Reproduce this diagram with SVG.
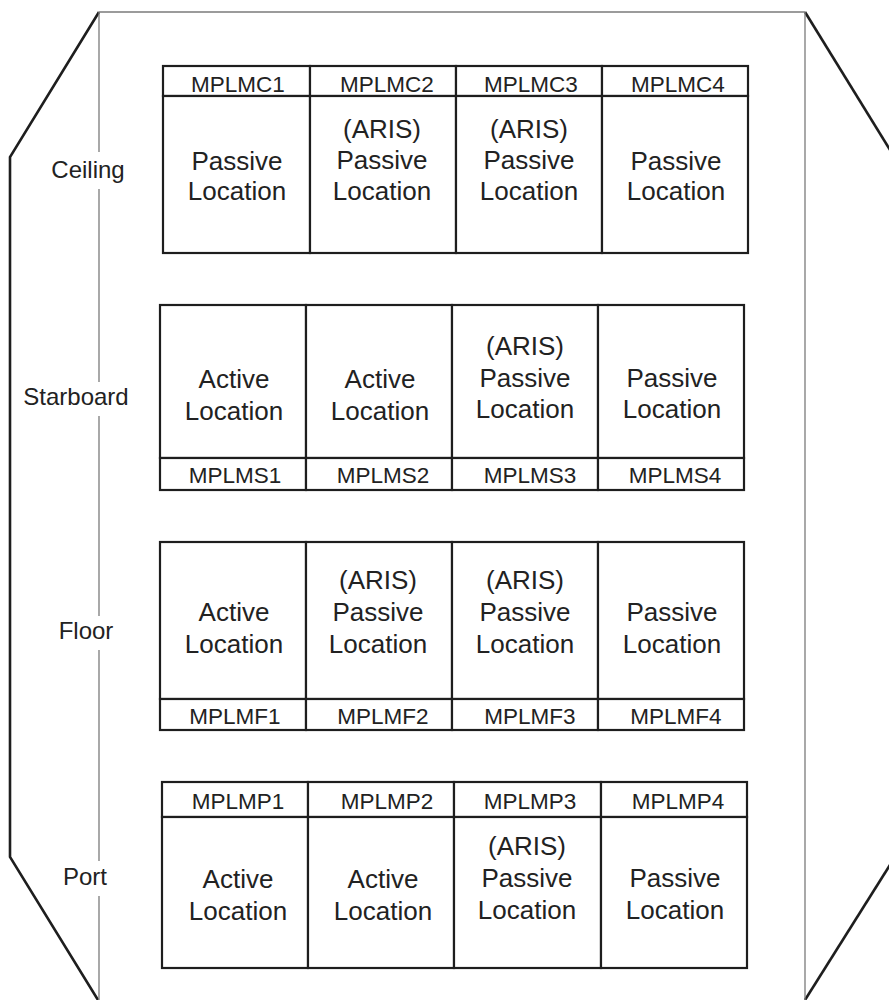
<svg xmlns="http://www.w3.org/2000/svg" width="889" height="1000" viewBox="0 0 889 1000">
  <style>
    .hull { fill: none; stroke: #1e1e1e; stroke-width: 2.6; stroke-linejoin: miter; }
    .axis { fill: none; stroke: #7a7a7a; stroke-width: 1.3; }
    .cell { fill: #ffffff; stroke: #1e1e1e; stroke-width: 2.2; }
    .id   { font-family: "Liberation Sans", Arial, sans-serif; font-size: 22.5px; fill: #222; text-anchor: middle; }
    .body { font-family: "Liberation Sans", Arial, sans-serif; font-size: 26px; fill: #222; text-anchor: middle; }
    .side { font-family: "Liberation Sans", Arial, sans-serif; font-size: 24px; fill: #222; text-anchor: middle; }
  </style>
  <rect width="889" height="1000" fill="#ffffff"/>

  <!-- module cross-section outline -->
  <g id="frame">
    <polyline class="hull" points="99,12 10,157 10,857 98,1000"/>
    <polyline class="hull" points="805,12 895,158"/>
    <polyline class="hull" points="895,857 805,1000"/>
    <line class="axis" x1="99" y1="12" x2="805" y2="12"/>
    <line class="axis" x1="805" y1="12" x2="805" y2="1000"/>
    <!-- centre axis, broken around the side labels -->
    <line class="axis" x1="99" y1="12" x2="99" y2="152"/>
    <line class="axis" x1="99" y1="189" x2="99" y2="382"/>
    <line class="axis" x1="99" y1="416" x2="99" y2="616"/>
    <line class="axis" x1="99" y1="650" x2="99" y2="861"/>
    <line class="axis" x1="99" y1="896" x2="99" y2="1000"/>
  </g>

  <g id="labels">
    <text class="side" x="88" y="178">Ceiling</text>
    <text class="side" x="76" y="405">Starboard</text>
    <text class="side" x="86" y="639">Floor</text>
    <text class="side" x="85" y="885">Port</text>
  </g>

  <!-- Ceiling row: header on top -->
  <g id="ceiling">
    <g id="MPLMC1">
      <rect class="cell" x="163" y="66" width="147" height="30"/>
      <rect class="cell" x="163" y="96" width="147" height="157"/>
      <text class="id" x="238" y="92">MPLMC1</text>
      <text class="body" x="237" y="170">Passive</text>
      <text class="body" x="237" y="200">Location</text>
    </g>
    <g id="MPLMC2">
      <rect class="cell" x="310" y="66" width="146" height="30"/>
      <rect class="cell" x="310" y="96" width="146" height="157"/>
      <text class="id" x="387" y="92">MPLMC2</text>
      <text class="body" x="382" y="138">(ARIS)</text>
      <text class="body" x="382" y="169">Passive</text>
      <text class="body" x="382" y="200">Location</text>
    </g>
    <g id="MPLMC3">
      <rect class="cell" x="456" y="66" width="146" height="30"/>
      <rect class="cell" x="456" y="96" width="146" height="157"/>
      <text class="id" x="531" y="92">MPLMC3</text>
      <text class="body" x="529" y="138">(ARIS)</text>
      <text class="body" x="529" y="169">Passive</text>
      <text class="body" x="529" y="200">Location</text>
    </g>
    <g id="MPLMC4">
      <rect class="cell" x="602" y="66" width="146" height="30"/>
      <rect class="cell" x="602" y="96" width="146" height="157"/>
      <text class="id" x="678" y="92">MPLMC4</text>
      <text class="body" x="676" y="170">Passive</text>
      <text class="body" x="676" y="200">Location</text>
    </g>
  </g>

  <!-- Starboard row: header below -->
  <g id="starboard">
    <g id="MPLMS1">
      <rect class="cell" x="160" y="305" width="146" height="153"/>
      <rect class="cell" x="160" y="458" width="146" height="32"/>
      <text class="id" x="235" y="483">MPLMS1</text>
      <text class="body" x="234" y="388">Active</text>
      <text class="body" x="234" y="420">Location</text>
    </g>
    <g id="MPLMS2">
      <rect class="cell" x="306" y="305" width="146" height="153"/>
      <rect class="cell" x="306" y="458" width="146" height="32"/>
      <text class="id" x="383" y="483">MPLMS2</text>
      <text class="body" x="380" y="388">Active</text>
      <text class="body" x="380" y="420">Location</text>
    </g>
    <g id="MPLMS3">
      <rect class="cell" x="452" y="305" width="146" height="153"/>
      <rect class="cell" x="452" y="458" width="146" height="32"/>
      <text class="id" x="530" y="483">MPLMS3</text>
      <text class="body" x="525" y="355">(ARIS)</text>
      <text class="body" x="525" y="387">Passive</text>
      <text class="body" x="525" y="418">Location</text>
    </g>
    <g id="MPLMS4">
      <rect class="cell" x="598" y="305" width="146" height="153"/>
      <rect class="cell" x="598" y="458" width="146" height="32"/>
      <text class="id" x="675" y="483">MPLMS4</text>
      <text class="body" x="672" y="387">Passive</text>
      <text class="body" x="672" y="418">Location</text>
    </g>
  </g>

  <!-- Floor row: header below -->
  <g id="floor">
    <g id="MPLMF1">
      <rect class="cell" x="160" y="542" width="146" height="157"/>
      <rect class="cell" x="160" y="699" width="146" height="31"/>
      <text class="id" x="235" y="724">MPLMF1</text>
      <text class="body" x="234" y="621">Active</text>
      <text class="body" x="234" y="653">Location</text>
    </g>
    <g id="MPLMF2">
      <rect class="cell" x="306" y="542" width="146" height="157"/>
      <rect class="cell" x="306" y="699" width="146" height="31"/>
      <text class="id" x="383" y="724">MPLMF2</text>
      <text class="body" x="378" y="589">(ARIS)</text>
      <text class="body" x="378" y="621">Passive</text>
      <text class="body" x="378" y="653">Location</text>
    </g>
    <g id="MPLMF3">
      <rect class="cell" x="452" y="542" width="146" height="157"/>
      <rect class="cell" x="452" y="699" width="146" height="31"/>
      <text class="id" x="530" y="724">MPLMF3</text>
      <text class="body" x="525" y="589">(ARIS)</text>
      <text class="body" x="525" y="621">Passive</text>
      <text class="body" x="525" y="653">Location</text>
    </g>
    <g id="MPLMF4">
      <rect class="cell" x="598" y="542" width="146" height="157"/>
      <rect class="cell" x="598" y="699" width="146" height="31"/>
      <text class="id" x="676" y="724">MPLMF4</text>
      <text class="body" x="672" y="621">Passive</text>
      <text class="body" x="672" y="653">Location</text>
    </g>
  </g>

  <!-- Port row: header on top -->
  <g id="port">
    <g id="MPLMP1">
      <rect class="cell" x="162" y="782" width="146" height="35"/>
      <rect class="cell" x="162" y="817" width="146" height="151"/>
      <text class="id" x="238" y="809">MPLMP1</text>
      <text class="body" x="238" y="888">Active</text>
      <text class="body" x="238" y="920">Location</text>
    </g>
    <g id="MPLMP2">
      <rect class="cell" x="308" y="782" width="146" height="35"/>
      <rect class="cell" x="308" y="817" width="146" height="151"/>
      <text class="id" x="387" y="809">MPLMP2</text>
      <text class="body" x="383" y="888">Active</text>
      <text class="body" x="383" y="920">Location</text>
    </g>
    <g id="MPLMP3">
      <rect class="cell" x="454" y="782" width="147" height="35"/>
      <rect class="cell" x="454" y="817" width="147" height="151"/>
      <text class="id" x="530" y="809">MPLMP3</text>
      <text class="body" x="527" y="855">(ARIS)</text>
      <text class="body" x="527" y="887">Passive</text>
      <text class="body" x="527" y="919">Location</text>
    </g>
    <g id="MPLMP4">
      <rect class="cell" x="601" y="782" width="146" height="35"/>
      <rect class="cell" x="601" y="817" width="146" height="151"/>
      <text class="id" x="678" y="809">MPLMP4</text>
      <text class="body" x="675" y="887">Passive</text>
      <text class="body" x="675" y="919">Location</text>
    </g>
  </g>
</svg>
